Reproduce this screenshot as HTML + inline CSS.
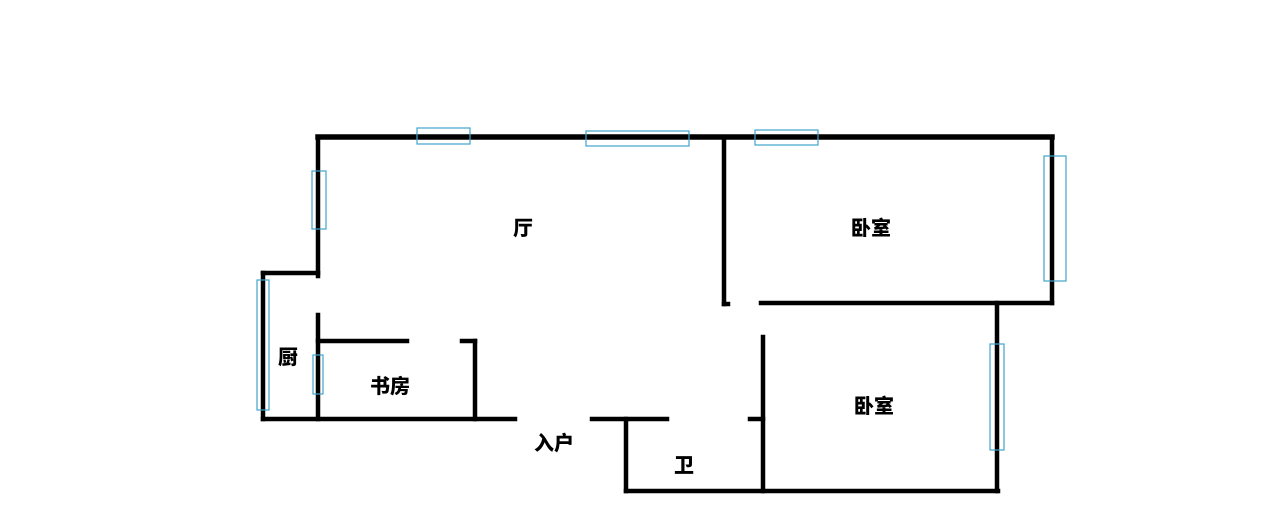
<!DOCTYPE html>
<html><head><meta charset="utf-8"><style>
html,body{margin:0;padding:0;background:#fff;}
svg{display:block;}
text{font-family:"Liberation Sans","Noto Sans CJK SC",sans-serif;font-weight:900;font-size:20px;fill:#000;}
</style></head><body>
<svg width="1280" height="524" viewBox="0 0 1280 524" xmlns="http://www.w3.org/2000/svg">
<g stroke="#000" stroke-width="4.5" fill="none" stroke-linecap="square">
<line x1="318" y1="137" x2="1052" y2="137" stroke-width="5.5"/>
<line x1="318" y1="137" x2="318" y2="276"/>
<line x1="263" y1="273" x2="318" y2="273"/>
<line x1="263" y1="273" x2="263" y2="419"/>
<line x1="263" y1="419" x2="515" y2="419"/>
<line x1="318" y1="315" x2="318" y2="419"/>
<line x1="318" y1="341" x2="407" y2="341"/>
<line x1="462" y1="341" x2="475" y2="341"/>
<line x1="475" y1="341" x2="475" y2="419"/>
<line x1="592" y1="419" x2="667" y2="419"/>
<line x1="626" y1="419" x2="626" y2="491"/>
<line x1="626" y1="491" x2="998" y2="491"/>
<line x1="750" y1="419" x2="763" y2="419"/>
<line x1="763" y1="337" x2="763" y2="491"/>
<line x1="724" y1="137" x2="724" y2="304"/>
<line x1="724" y1="304" x2="728" y2="304"/>
<line x1="761" y1="303" x2="1052" y2="303"/>
<line x1="1052" y1="137" x2="1052" y2="303"/>
<line x1="997" y1="303" x2="997" y2="491"/>
</g>
<g stroke="#3fa3cc" stroke-width="1.2" fill="none">
<rect x="417" y="128" width="53" height="16"/>
<rect x="586" y="131" width="103" height="15"/>
<rect x="755" y="130" width="63" height="15"/>
<rect x="312" y="171" width="14" height="58"/>
<rect x="257" y="280" width="12" height="130"/>
<rect x="313" y="355" width="10" height="39"/>
<rect x="1044" y="156" width="22" height="125"/>
<rect x="990" y="344" width="14" height="106"/>
</g>
<text x="523" y="235" text-anchor="middle">厅</text>
<text x="871" y="235" text-anchor="middle">卧室</text>
<text x="874" y="413" text-anchor="middle">卧室</text>
<text x="288" y="364" text-anchor="middle">厨</text>
<text x="390" y="393" text-anchor="middle">书房</text>
<text x="554" y="450" text-anchor="middle">入户</text>
<text x="684" y="472" text-anchor="middle">卫</text>
</svg>
</body></html>
